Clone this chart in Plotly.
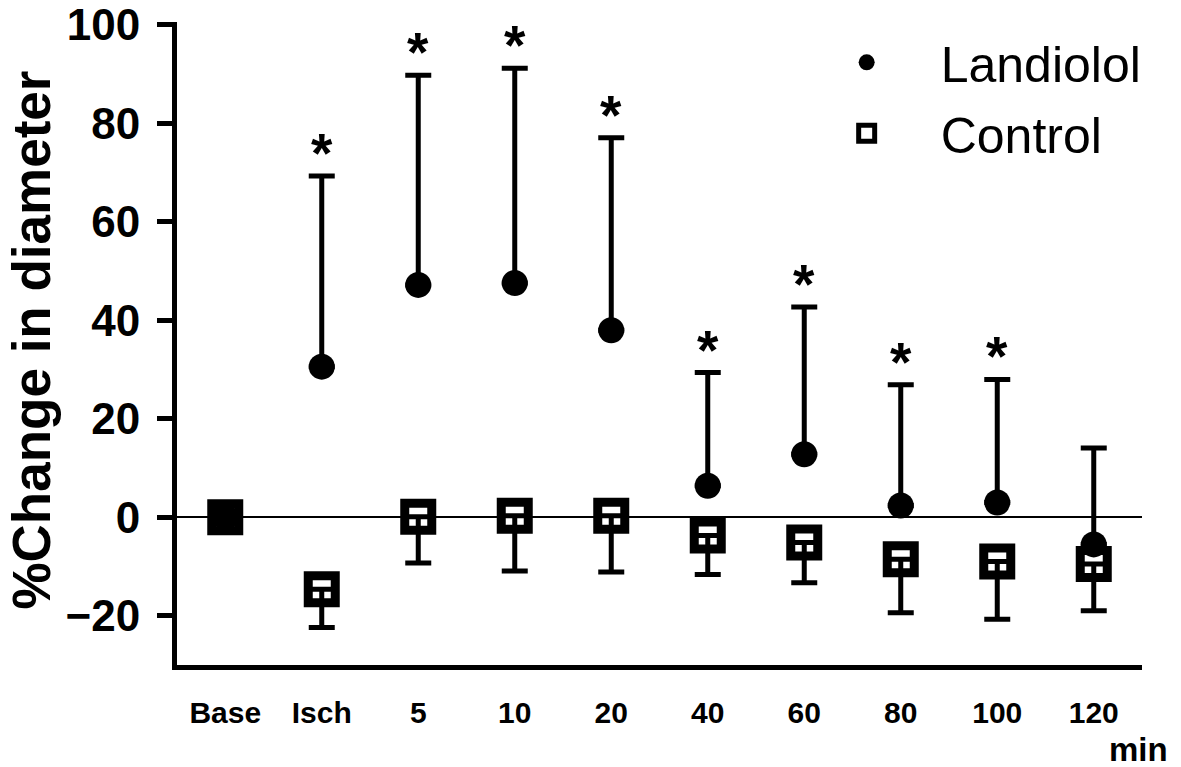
import plotly.graph_objects as go

categories = ["Base", "Isch", "5", "10", "20", "40", "60", "80", "100", "120"]
landiolol_mean = [0, 30.6, 47.2, 47.6, 38.0, 6.4, 12.8, 2.4, 3.0, -5.5]
landiolol_upper = [0, 69.3, 89.8, 91.2, 77.1, 29.4, 42.7, 26.9, 28.0, 14.1]
control_mean = [0, -14.6, 0.1, 0.3, 0.3, -3.7, -5.1, -8.5, -9.0, -9.5]
control_lower = [0, -22.4, -9.3, -10.9, -11.1, -11.6, -13.3, -19.4, -20.7, -19.0]
significant = [False, True, True, True, True, True, True, True, True, False]
y_ticks = [-20, 0, 20, 40, 60, 80, 100]

FONT = "Liberation Sans, Arial, sans-serif"

x_pos = list(range(len(categories)))
land_err_plus = [u - m for u, m in zip(landiolol_upper, landiolol_mean)]
ctrl_err_minus = [m - l for m, l in zip(control_mean, control_lower)]

fig = go.Figure()
fig.add_trace(go.Scatter(
    x=x_pos, y=landiolol_mean, mode="markers", name="Landiolol",
    legendgroup="a",
    marker=dict(symbol="circle", size=26, color="black"),
    error_y=dict(type="data", symmetric=False, array=land_err_plus,
                 arrayminus=[0] * len(categories), color="black",
                 thickness=5, width=13),
))
fig.add_trace(go.Scatter(
    x=x_pos, y=control_mean, mode="markers", name="Control",
    legendgroup="b",
    marker=dict(symbol="square-open", size=27, color="black",
                line=dict(width=9, color="black")),
    error_y=dict(type="data", symmetric=False, array=[0] * len(categories),
                 arrayminus=ctrl_err_minus, color="black",
                 thickness=5, width=13),
))

annotations = []
for xp, u, s in zip(x_pos, landiolol_upper, significant):
    if s:
        annotations.append(dict(x=xp, y=u, xref="x", yref="y", text="*",
                                showarrow=False, yanchor="bottom", yshift=-10,
                                font=dict(family=FONT, size=55, color="black",
                                          weight="bold")))
annotations.append(dict(x=-0.151, y=0.505, xref="paper", yref="paper",
                        xanchor="center", yanchor="middle",
                        text="%Change in diameter", textangle=-90,
                        showarrow=False,
                        font=dict(family=FONT, size=53, color="black",
                                  weight="bold")))
annotations.append(dict(x=1.029, y=-0.132, xref="paper", yref="paper",
                        text="min", showarrow=False, xanchor="right",
                        yanchor="middle",
                        font=dict(family=FONT, size=33, color="black",
                                  weight="bold")))

fig.update_layout(
    width=1181, height=767,
    margin=dict(l=177, r=39, t=22, b=102, autoexpand=False),
    paper_bgcolor="white", plot_bgcolor="white",
    font=dict(family=FONT, color="black"),
    showlegend=True,
    legend=dict(x=0.638, y=0.998, xanchor="left", yanchor="top",
                font=dict(family=FONT, size=50, color="black"),
                itemwidth=138, traceorder="grouped", tracegroupgap=3,
                bgcolor="rgba(0,0,0,0)"),
    annotations=annotations,
    xaxis=dict(range=[-0.5, 9.5], tickvals=x_pos, ticktext=categories,
               showgrid=False, automargin=False,
               zeroline=False, showline=True, linecolor="black", linewidth=5,
               ticks="", tickfont=dict(family=FONT, size=30, color="black",
                                        weight="bold"),
               ticklabelstandoff=17),
    yaxis=dict(range=[-30, 100.6], tickvals=y_ticks, showgrid=False,
               automargin=False, ticklabeloverflow="allow",
               zeroline=True, zerolinecolor="black", zerolinewidth=1.5,
               showline=True, linecolor="black", linewidth=5,
               ticks="outside", ticklen=15, tickwidth=5, tickcolor="black",
               tickfont=dict(family=FONT, size=44, color="black",
                             weight="bold"),
               ticklabelstandoff=8),
)

fig.write_html("out.html", config={"displayModeBar": False},
               post_script="document.body.style.margin='0';")
